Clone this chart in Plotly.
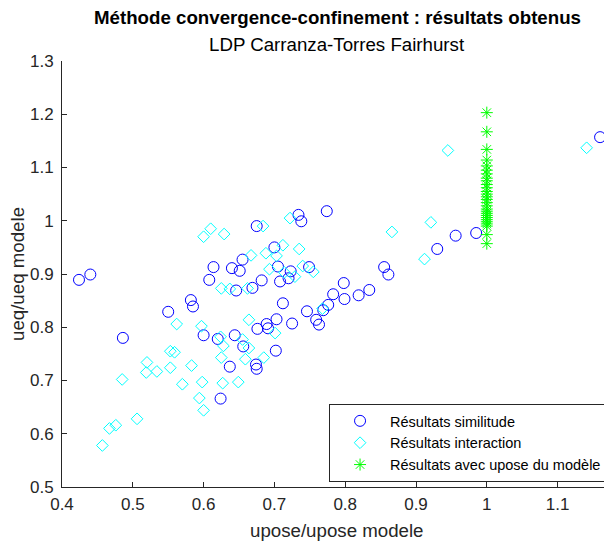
import plotly.graph_objects as go

# Résultats similitude (circles)
sim_x = [0.424, 0.440, 0.486, 0.550, 0.582, 0.585, 0.600, 0.608, 0.614, 0.620,
         0.624, 0.637, 0.640, 0.644, 0.646, 0.651, 0.655, 0.656, 0.669, 0.675,
         0.674, 0.675, 0.676, 0.682, 0.689, 0.691, 0.700, 0.703, 0.702, 0.705,
         0.708, 0.720, 0.723, 0.712, 0.725, 0.734, 0.738, 0.749, 0.746, 0.759,
         0.763, 0.769, 0.774, 0.776, 0.783, 0.798, 0.799, 0.819, 0.834, 0.855,
         0.861, 0.930, 0.956, 0.985, 1.160]
sim_y = [0.889, 0.899, 0.780, 0.829, 0.851, 0.839, 0.785, 0.889, 0.913, 0.778,
         0.666, 0.726, 0.911, 0.785, 0.869, 0.906, 0.927, 0.764, 0.874, 0.990,
         0.730, 0.722, 0.797, 0.888, 0.806, 0.798, 0.950, 0.815, 0.756, 0.914,
         0.886, 0.892, 0.905, 0.845, 0.807, 1.011, 0.999, 0.913, 0.830, 0.814,
         0.805, 0.832, 1.018, 0.842, 0.862, 0.883, 0.853, 0.860, 0.870, 0.913,
         0.899, 0.947, 0.972, 0.977, 1.157]

# Résultats interaction (diamonds)
int_x = [0.457, 0.467, 0.476, 0.485, 0.506, 0.519, 0.520, 0.534, 0.553, 0.553,
         0.559, 0.562, 0.570, 0.583, 0.594, 0.600, 0.598, 0.597, 0.600, 0.610,
         0.629, 0.624, 0.625, 0.627, 0.625, 0.637, 0.628, 0.649, 0.655, 0.659,
         0.662, 0.664, 0.664, 0.667, 0.684, 0.685, 0.688, 0.693, 0.701, 0.703,
         0.712, 0.714, 0.722, 0.729, 0.735, 0.740, 0.755, 0.768, 0.866, 0.912,
         0.921, 0.945, 1.141]
int_y = [0.578, 0.610, 0.616, 0.702, 0.628, 0.715, 0.734, 0.717, 0.724, 0.755,
         0.753, 0.806, 0.693, 0.728, 0.667, 0.644, 0.697, 0.802, 0.970, 0.985,
         0.975, 0.782, 0.743, 0.695, 0.873, 0.872, 0.765, 0.697, 0.777, 0.740,
         0.873, 0.814, 0.761, 0.935, 0.990, 0.743, 0.939, 0.909, 0.789, 0.934,
         0.954, 0.903, 1.005, 0.895, 0.947, 0.915, 0.904, 0.835, 0.979, 0.928,
         0.997, 1.132, 1.137]

# Résultats avec upose du modèle (stars)
mod_y = [1.203, 1.167, 1.134, 1.114, 1.103, 1.095, 1.088, 1.080, 1.075, 1.068,
         1.062, 1.055, 1.050, 1.045, 1.040, 1.034, 1.028, 1.022, 1.018, 1.014,
         1.010, 1.006, 1.002, 0.998, 0.994, 0.990, 0.974, 0.957]
mod_x = [1.0] * len(mod_y)

x_ticks = [0.4, 0.5, 0.6, 0.7, 0.8, 0.9, 1.0, 1.1]
x_tick_labels = ["0.4", "0.5", "0.6", "0.7", "0.8", "0.9", "1", "1.1"]
y_ticks = [0.5, 0.6, 0.7, 0.8, 0.9, 1.0, 1.1, 1.2, 1.3]
y_tick_labels = ["0.5", "0.6", "0.7", "0.8", "0.9", "1", "1.1", "1.2", "1.3"]

FONT = "Liberation Sans, Arial, sans-serif"
AX = "#262626"

fig = go.Figure()
fig.add_trace(go.Scatter(
    x=sim_x, y=sim_y, mode="markers", name="Résultats similitude",
    marker=dict(symbol="circle-open", size=11, color="#0000ff", line=dict(width=1, color="#0000ff")),
))
fig.add_trace(go.Scatter(
    x=int_x, y=int_y, mode="markers", name="Résultats interaction",
    marker=dict(symbol="diamond-open", size=9, color="#00ffff", line=dict(width=1, color="#00ffff")),
))
fig.add_trace(go.Scatter(
    x=mod_x, y=mod_y, mode="markers", name="Résultats avec upose du modèle",
    marker=dict(symbol="asterisk-open", size=10, color="#00ff00", line=dict(width=1, color="#00ff00")),
))

# The page body has an 8px margin: figure drawn at (8, 8) inside the 612x547 window.
fig.update_layout(
    width=604, height=539,
    margin=dict(l=54, r=0, t=53, b=60),
    paper_bgcolor="white", plot_bgcolor="white",
    font=dict(family=FONT, size=17, color=AX),
    showlegend=True,
    legend=dict(
        x=0.991, y=0.195, xanchor="right", yanchor="top",
        bordercolor=AX, borderwidth=1, bgcolor="white",
        font=dict(family=FONT, size=14.5, color="black"),
        tracegroupgap=0, itemsizing="trace", itemwidth=50,
    ),
    annotations=[
        dict(text="<b>Méthode convergence-confinement : résultats obtenus</b>",
             xref="paper", yref="paper", x=0.5, y=1, yshift=44, xanchor="center", yanchor="middle",
             showarrow=False, font=dict(family=FONT, size=18.7, color="black")),
        dict(text="LDP Carranza-Torres Fairhurst",
             xref="paper", yref="paper", x=0.5, y=1, yshift=17, xanchor="center", yanchor="middle",
             showarrow=False, font=dict(family=FONT, size=18.7, color="black")),
        dict(text="upose/upose modele",
             xref="paper", yref="paper", x=0.5, y=0, yshift=-43, xanchor="center", yanchor="middle",
             showarrow=False, font=dict(family=FONT, size=18.7, color=AX)),
        dict(text="ueq/ueq modele", textangle=-90,
             xref="paper", yref="paper", x=0, y=0.5, xshift=-45, xanchor="center", yanchor="middle",
             showarrow=False, font=dict(family=FONT, size=18.7, color=AX)),
    ],
)
fig.update_xaxes(
    range=[0.4, 0.4 + 550 / 708], tickvals=x_ticks, ticktext=x_tick_labels,
    showgrid=False, zeroline=False, showline=True, linecolor=AX, linewidth=1,
    ticks="inside", ticklen=5, tickcolor=AX, tickfont=dict(size=17, color=AX),
    automargin=False, ticklabelstandoff=2,
)
fig.update_yaxes(
    range=[0.5, 1.3], tickvals=y_ticks, ticktext=y_tick_labels,
    showgrid=False, zeroline=False, showline=True, linecolor=AX, linewidth=1,
    ticks="inside", ticklen=5, tickcolor=AX, tickfont=dict(size=17, color=AX),
    automargin=False, ticklabelstandoff=4,
)

fig.write_html("out.html")
